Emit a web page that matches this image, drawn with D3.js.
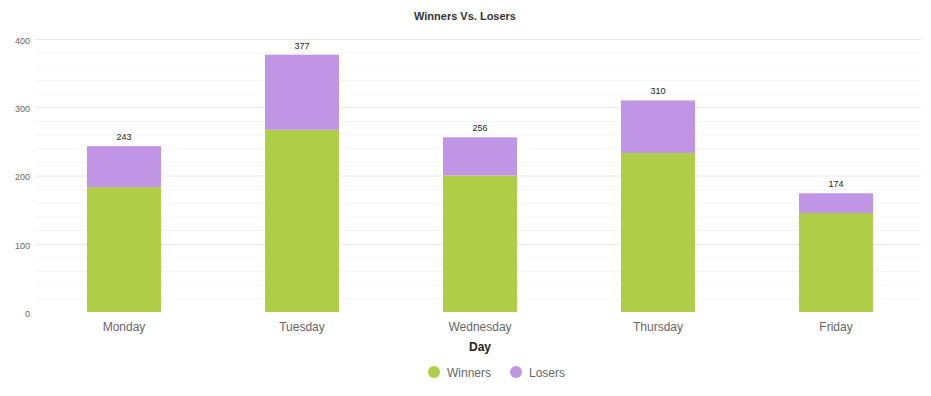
<!DOCTYPE html>
<html><head><meta charset="utf-8">
<script src="https://cdn.jsdelivr.net/npm/d3@7"></script>
<style>body{margin:0;background:#fff;font-family:"Liberation Sans",Arial,sans-serif;}</style>
</head><body><svg id="c" width="931" height="396" font-family="Liberation Sans, Arial, sans-serif"></svg>
<script>
const days = ["Monday","Tuesday","Wednesday","Thursday","Friday"];
const winners = [183,267,200,233,145];
const losers = [60,110,56,77,29];
const yTicks = [0,100,200,300,400];
const seriesNames = ["Winners","Losers"];
const colors = ["#afcd47","#c195e6"];

const svg = d3.select("#c");
const x = d3.scaleBand().domain(days).range([35,925]);
const y = d3.scaleLinear().domain([0,400]).range([312,39]);

// minor grid
const minor = d3.range(0,401,20).filter(v=>v%100!==0);
svg.append("g").selectAll("line").data(minor).join("line")
  .attr("x1",35).attr("x2",921).attr("y1",d=>y(d)+0.5).attr("y2",d=>y(d)+0.5)
  .attr("stroke","#f4f4f4");
svg.append("g").selectAll("line").data(yTicks.filter(v=>v>0)).join("line")
  .attr("x1",35).attr("x2",921).attr("y1",d=>y(d)+0.5).attr("y2",d=>y(d)+0.5)
  .attr("stroke","#e6e6e6");

// y axis
const ya = svg.append("g").attr("transform","translate(30,1.5)")
  .call(d3.axisLeft(y).tickValues(yTicks).tickSize(0).tickPadding(0));
ya.select(".domain").remove();
ya.selectAll("text").attr("font-size","9px").attr("fill","#666").attr("font-family","Liberation Sans, Arial, sans-serif");

// bars
const data = days.map((d,i)=>({day:d,Winners:winners[i],Losers:losers[i]}));
const stack = d3.stack().keys(seriesNames)(data);
const bw = x.bandwidth()*0.416;
svg.append("g").selectAll("g").data(stack).join("g").attr("fill",(d,i)=>colors[i])
  .selectAll("rect").data(d=>d).join("rect")
  .attr("x",d=>x(d.data.day)+(x.bandwidth()-bw)/2)
  .attr("width",bw)
  .attr("y",d=>y(d[1]))
  .attr("height",d=>y(d[0])-y(d[1]));

// totals
svg.append("g").selectAll("text").data(data).join("text")
  .attr("x",d=>x(d.day)+x.bandwidth()/2)
  .attr("y",d=>y(d.Winners+d.Losers)-6)
  .attr("text-anchor","middle").attr("font-size","9px").attr("fill","#222")
  .text(d=>d.Winners+d.Losers);

// x axis
const xa = svg.append("g").attr("transform","translate(0,312)")
  .call(d3.axisBottom(x).tickSize(0).tickPadding(10));
xa.select(".domain").remove();
xa.selectAll("text").attr("font-size","12px").attr("fill","#666").attr("font-family","Liberation Sans, Arial, sans-serif");

svg.append("text").attr("x",480).attr("y",351).attr("text-anchor","middle")
  .attr("font-size","12px").attr("font-weight","bold").attr("fill","#222").text("Day");

svg.append("text").attr("x",465).attr("y",20).attr("text-anchor","middle")
  .attr("font-size","11px").attr("font-weight","bold").attr("fill","#333").text("Winners Vs. Losers");

// legend
const lx = [434,516];
const lg = svg.append("g").selectAll("g").data(seriesNames).join("g")
  .attr("transform",(d,i)=>`translate(${lx[i]},372)`);
lg.append("circle").attr("r",6).attr("fill",(d,i)=>colors[i]);
lg.append("text").attr("x",13).attr("y",5).attr("font-size","12px").attr("fill","#666").text(d=>d);
</script></body></html>
